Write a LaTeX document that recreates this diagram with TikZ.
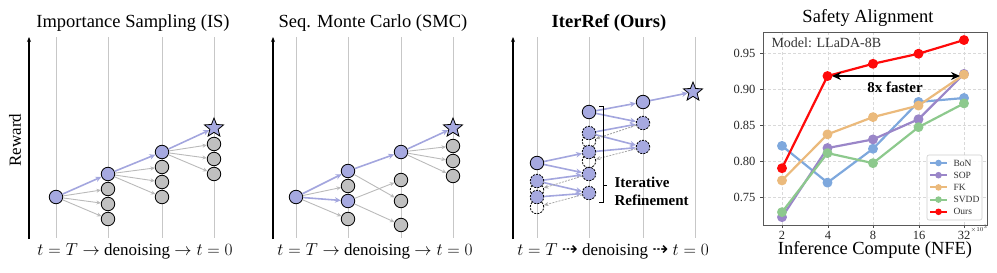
\documentclass[tikz,border=0pt]{standalone}
\usepackage{amsmath,amssymb}
\usepackage{fontspec}
\setmainfont{Liberation Serif}
\newfontfamily\arrowfont{DejaVu Sans}
\usetikzlibrary{arrows.meta,shapes.geometric}

\definecolor{lav}{HTML}{A6A9E0}
\definecolor{lavline}{HTML}{A3A6DE}
\definecolor{nodegray}{HTML}{C0C0C0}
\definecolor{bonc}{HTML}{7EA8DD}
\definecolor{sopc}{HTML}{9A86C8}
\definecolor{fkc}{HTML}{EBBA7C}
\definecolor{svddc}{HTML}{8DC98D}
\definecolor{oursc}{HTML}{FF0A0A}

\newcommand{\dasharr}{{\arrowfont\fontsize{19}{19}\selectfont ⇢}}

\tikzset{
  pnode/.style={circle, draw, fill=lav, line width=0.8pt, minimum size=13.5pt, inner sep=0pt},
  gnode/.style={pnode, fill=nodegray},
  dnode/.style={pnode, dash pattern=on 2pt off 1.2pt},
  ghost/.style={circle, draw, dash pattern=on 2pt off 1.2pt, line width=0.8pt, minimum size=13.5pt, inner sep=0pt},
  goal/.style={star, star points=5, star point ratio=2.3, draw, fill=lav, line width=0.8pt, minimum size=20pt, inner sep=0pt},
  parr/.style={-{Stealth[length=6pt,width=5.5pt]}, lavline, line width=1.6pt},
  garr/.style={-{Stealth[length=4.5pt,width=4pt]}, black!27, line width=0.9pt},
  darr/.style={-{Stealth[length=4.5pt,width=4pt]}, black!35, dash pattern=on 2pt off 1.2pt, line width=0.8pt},
  track/.style={black!22, line width=0.8pt},
  raxis/.style={-{Stealth[length=5pt,width=4pt]}, line width=1.6pt},
  ttl/.style={font=\fontsize{18.5}{20}\selectfont},
  lbl/.style={font=\fontsize{17}{19}\selectfont},
  curve/.style={line width=2.2pt, line join=round, mark=*, mark size=3.8pt},
}

\begin{document}
\begin{tikzpicture}[x=1pt, y=-1pt]
    \useasboundingbox (0,0) rectangle (997,273);

    % Importance Sampling
    \node[ttl] (T1) at (133,23) {Importance Sampling (IS)};
    \draw[raxis] (29,239) -- (29,37);
    \node[lbl, rotate=90] (Rw) at (15,140) {Reward};
    \foreach \x in {56,108,162,214} \draw[track] (\x,37) -- (\x,238);
    \node[lbl] (B1) at (135,251) {$t=T\rightarrow$ denoising $\rightarrow t=0$};
    \node[pnode] (I0) at (56,197) {};
    \node[pnode] (I1) at (108,174) {};
    \node[gnode] (I1a) at (108,189) {};
    \node[gnode] (I1b) at (108,204) {};
    \node[gnode] (I1c) at (108,219) {};
    \node[pnode] (I2) at (162,152) {};
    \node[gnode] (I2a) at (162,167) {};
    \node[gnode] (I2b) at (162,182) {};
    \node[gnode] (I2c) at (162,197) {};
    \node[goal] (I3) at (214,128) {};
    \node[gnode] (I3a) at (214,144) {};
    \node[gnode] (I3b) at (214,159) {};
    \node[gnode] (I3c) at (214,174) {};
    \draw[parr] (I0) to (I1);
    \draw[garr] (I0) to (I1a);
    \draw[garr] (I0) to (I1b);
    \draw[garr] (I0) to (I1c);
    \draw[parr] (I1) to (I2);
    \draw[garr] (I1) to (I2a);
    \draw[garr] (I1) to (I2b);
    \draw[garr] (I1) to (I2c);
    \draw[parr] (I2) to (I3);
    \draw[garr] (I2) to (I3a);
    \draw[garr] (I2) to (I3b);
    \draw[garr] (I2) to (I3c);

    % Seq. Monte Carlo
    \node[ttl] (T2) at (373,23) {Seq. Monte Carlo (SMC)};
    \draw[raxis] (273,239) -- (273,37);
    \foreach \x in {296,348,401,453} \draw[track] (\x,37) -- (\x,238);
    \node[lbl] (B2) at (375,251) {$t=T\rightarrow$ denoising $\rightarrow t=0$};
    \node[pnode] (S0) at (296,197) {};
    \node[pnode] (S1) at (348,171) {};
    \node[gnode] (S1a) at (348,186) {};
    \node[pnode] (S1q) at (348,201) {};
    \node[gnode] (S1b) at (348,219) {};
    \node[pnode] (S2) at (401,152) {};
    \node[gnode] (S2a) at (401,180) {};
    \node[gnode] (S2b) at (401,201) {};
    \node[gnode] (S2c) at (401,225) {};
    \node[goal] (S3) at (453,128) {};
    \node[gnode] (S3a) at (453,146) {};
    \node[gnode] (S3b) at (453,161) {};
    \node[gnode] (S3c) at (453,176) {};
    \draw[parr] (S0) to (S1);
    \draw[garr] (S0) to (S1a);
    \draw[parr] (S0) to (S1q);
    \draw[garr] (S0) to (S1b);
    \draw[parr] (S1) to (S2);
    \draw[garr] (S1) to (S2b);
    \draw[garr] (S1q) to (S2a);
    \draw[garr] (S1q) to (S2c);
    \draw[parr] (S2) to (S3);
    \draw[garr] (S2) to (S3a);
    \draw[garr] (S2) to (S3b);
    \draw[garr] (S2) to (S3c);

    % IterRef
    \node[ttl, font=\fontsize{18.5}{20}\selectfont\bfseries] (T3) at (609,23) {IterRef (Ours)};
    \draw[raxis] (513,239) -- (513,37);
    \foreach \x in {537,589,643,695} \draw[track] (\x,37) -- (\x,238);
    \node[lbl] (B3) at (613,251) {$t=T$ \dasharr{} denoising \dasharr{} $t=0$};
    \node[ghost] (G1a) at (537,190) {};
    \node[ghost] (G1b) at (537,207) {};
    \node[ghost] (G2a) at (589,141) {};
    \node[ghost] (G2b) at (589,161) {};
    \node[pnode] (R1a) at (537,163) {};
    \node[dnode] (R1b) at (537,181) {};
    \node[dnode] (R1c) at (537,197) {};
    \node[pnode] (R2a) at (589,112) {};
    \node[dnode] (R2b) at (589,133) {};
    \node[dnode] (R2c) at (589,152) {};
    \node[dnode] (R2d) at (589,174) {};
    \node[dnode] (R2e) at (589,193) {};
    \node[pnode] (R3a) at (643,102) {};
    \node[dnode] (R3b) at (643,123) {};
    \node[dnode] (R3c) at (643,147) {};
    \node[goal] (R4) at (693,92) {};
    \draw[parr] (R1a) to (R2c);
    \draw[parr] (R1a) to (R2d);
    \draw[parr] (R1b) to (R2d);
    \draw[parr] (R1b) to (R2e);
    \draw[parr] (R1c) to (R2e);
    \draw[parr] (R2a) to (R3a);
    \draw[parr] (R2a) to (R3b);
    \draw[parr] (R2b) to (R3b);
    \draw[parr] (R2b) to (R3c);
    \draw[parr] (R2c) to (R3c);
    \draw[parr] (R3a) to (R4);
    \draw[darr] (R2d) to (G1a);
    \draw[darr] (R2e) to (G1b);
    \draw[darr] (R3b) to (G2a);
    \draw[darr] (R3c) to (G2b);
    \draw[line width=0.9pt] (599,106) -- (603,106) -- (603,202) -- (599,202);
    \draw[line width=0.9pt] (603,185) -- (607,185);
    \node[font=\fontsize{15}{18}\selectfont\bfseries, align=left, anchor=west] (IR) at (611,191) {Iterative\\Refinement};

    % Safety Alignment plot
    \node[ttl] (T4) at (868,18) {Safety Alignment};
    \foreach \y in {53,89,125,161,197} {
        \draw[black!15, densely dashed, line width=0.4pt] (763,\y) -- (987,\y);
        \draw[black!70, line width=0.6pt] (760,\y) -- (763,\y);
    }
    \foreach \x in {782,828,873,919,964} {
        \draw[black!15, densely dashed, line width=0.4pt] (\x,32) -- (\x,225);
        \draw[black!70, line width=0.6pt] (\x,225) -- (\x,228);
    }
    \foreach \y/\t in {53/0.95,89/0.90,125/0.85,161/0.80,197/0.75}
        \node[anchor=east, font=\fontsize{12.5}{14}\selectfont, text=black!85] at (759,\y) {\t};
    \foreach \x/\t in {782/2,828/4,873/8,919/16,964/32}
        \node[font=\fontsize{12.5}{14}\selectfont, text=black!85] at (\x,235) {\t};
    \node[font=\fontsize{6.5}{7}\selectfont, text=black!85] (Ex) at (979,229) {$\times10^{3}$};
    \node[font=\fontsize{18.5}{20}\selectfont] (XL) at (875,250) {Inference Compute (NFE)};
    \node[font=\fontsize{14}{16}\selectfont, text=black!80, anchor=west] (Md) at (768,43) {Model: LLaDA-8B};

    \begin{scope}[x=45.5pt, y=720pt, shift={(782pt,-737pt)}]
        \draw[curve, bonc, mark options={fill=bonc, draw=bonc}] plot coordinates {(0,0.821) (1,0.770) (2,0.817) (3,0.882) (4,0.8875)};
        \draw[curve, sopc, mark options={fill=sopc, draw=sopc}] plot coordinates {(0,0.722) (1,0.818) (2,0.830) (3,0.858) (4,0.921)};
        \draw[curve, fkc, mark options={fill=fkc, draw=fkc}] plot coordinates {(0,0.773) (1,0.837) (2,0.861) (3,0.877) (4,0.920)};
        \draw[curve, svddc, mark options={fill=svddc, draw=svddc}] plot coordinates {(0,0.729) (1,0.811) (2,0.797) (3,0.847) (4,0.880)};
        \draw[curve, oursc, mark options={fill=oursc, draw=oursc}] plot coordinates {(0,0.790) (1,0.918) (2,0.935) (3,0.949) (4,0.968)};
    \end{scope}

    \coordinate (Fa) at (832,76);
    \coordinate (Fb) at (960,76);
    \draw[{Stealth[length=9pt,width=8pt]}-{Stealth[length=9pt,width=8pt]}, line width=1.6pt] (Fa) -- (Fb);
    \node[font=\fontsize{15}{17}\selectfont\bfseries] (Fs) at (895,87) {8x faster};

    \draw[black!65, line width=0.8pt] (763,32) rectangle (987,225);

    % legend
    \draw[black!20, fill=white, fill opacity=0.85, rounded corners=2pt, line width=0.6pt] (927,155) rectangle (982,220);
    \foreach \c/\t [count=\i from 0] in {bonc/BoN,sopc/SOP,fkc/FK,svddc/SVDD,oursc/Ours} {
        \draw[\c, line width=2pt] (930,163+12.2*\i) -- (947,163+12.2*\i);
        \fill[\c] (938.5,163+12.2*\i) circle (3.3pt);
        \node[anchor=west, font=\fontsize{9.5}{11}\selectfont, text=black!80] at (950,163+12.2*\i) {\t};
    }
\end{tikzpicture}
\end{document}
